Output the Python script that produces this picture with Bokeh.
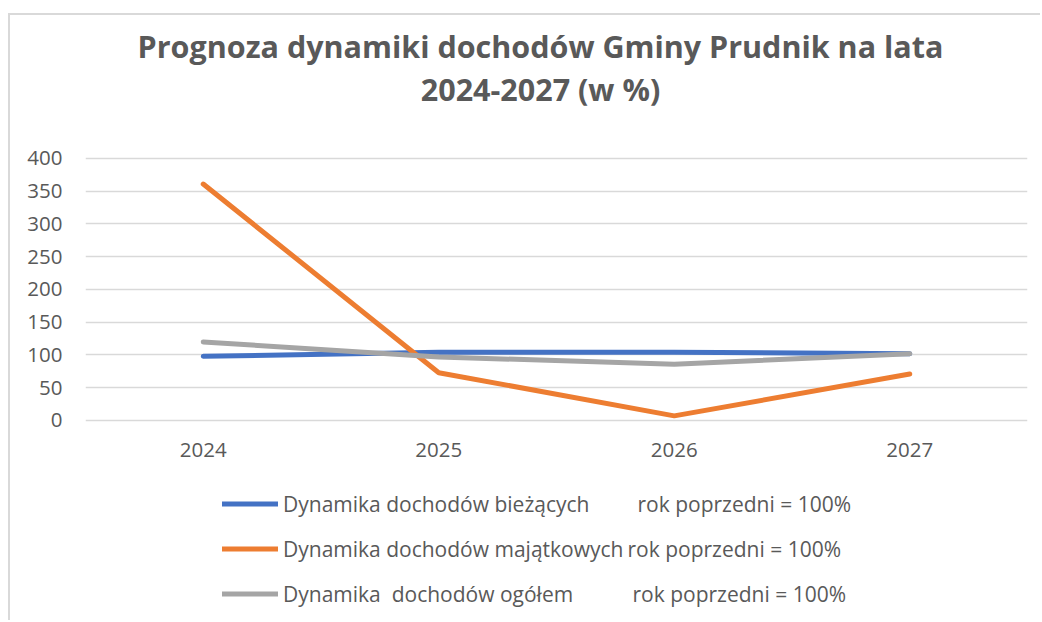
from bokeh.plotting import figure
from bokeh.models import Range1d, FactorRange, Legend, LegendItem, Label
from bokeh.embed import file_html
from bokeh.resources import INLINE

years = ["2024", "2025", "2026", "2027"]
biezace = [98, 104, 104, 102]
majatkowe = [361, 73, 7, 71]
ogolem = [120, 97, 86, 102]

series_names = [
    "Dynamika dochodów bieżących",
    "Dynamika dochodów majątkowych",
    "Dynamika  dochodów ogółem",
]
suffix = "rok poprzedni = 100%"
title_lines = ["Prognoza dynamiki dochodów Gminy Prudnik na lata", "2024-2027 (w %)"]
y_ticks = [0, 50, 100, 150, 200, 250, 300, 350, 400]

TXT = "#595959"
FONT = "Open Sans"

p = figure(
    width=1032, height=607,
    x_range=FactorRange(factors=years),
    y_range=Range1d(-308.4, 618.3),
    output_backend="svg", toolbar_location=None,
    min_border_left=75, min_border_right=15, min_border_top=0, min_border_bottom=0,
)
p.styles = {
    "border-left": "2px solid #d9d9d9",
    "border-top": "2px solid #d9d9d9",
    "margin-left": "8px",
    "margin-top": "13px",
}
p.outline_line_color = None
p.background_fill_color = "white"
p.border_fill_color = "white"

p.xgrid.grid_line_color = None
p.ygrid.grid_line_color = "#d9d9d9"
p.ygrid.grid_line_width = 1.5
p.yaxis.ticker = y_ticks
p.xaxis.fixed_location = 0

for ax in (p.xaxis, p.yaxis):
    ax.axis_line_color = None
    ax.major_tick_line_color = None
    ax.minor_tick_line_color = None
    ax.major_label_text_color = TXT
    ax.major_label_text_font = FONT
    ax.major_label_text_font_size = "20.5px"
p.xaxis.major_label_standoff = 17
p.yaxis.major_label_standoff = 17

colors = ["#4472C4", "#ED7D31", "#A5A5A5"]
r1 = p.line(years, biezace, line_color=colors[0], line_width=5, line_cap="round")
r2 = p.line(years, majatkowe, line_color=colors[1], line_width=5, line_cap="round")
r3 = p.line(years, ogolem, line_color=colors[2], line_width=5, line_cap="round")

legend = Legend(
    items=[LegendItem(label=n, renderers=[r]) for n, r in zip(series_names, [r1, r2, r3])],
    location=(137, 14),
    orientation="vertical",
    glyph_width=56, glyph_height=29, label_height=29, spacing=16,
    padding=0, margin=0, label_standoff=5,
    label_text_font=FONT, label_text_font_size="21px", label_text_color=TXT,
    border_line_color=None, background_fill_alpha=0,
)
p.add_layout(legend, "center")

for xs, ys in [(552, 119), (542, 74), (547, 29)]:
    p.add_layout(Label(x=xs, y=ys, x_units="screen", y_units="screen", text=suffix,
                       text_font=FONT, text_font_size="21px", text_color=TXT,
                       text_baseline="middle", text_align="left"))

for t, ys in zip(title_lines, [577, 534]):
    p.add_layout(Label(x=455, y=ys, x_units="screen", y_units="screen", text=t,
                       text_font=FONT, text_font_size="30.5px", text_font_style="bold",
                       text_color=TXT, text_baseline="middle", text_align="center"))

open("out.html", "w").write(file_html(p, INLINE))
